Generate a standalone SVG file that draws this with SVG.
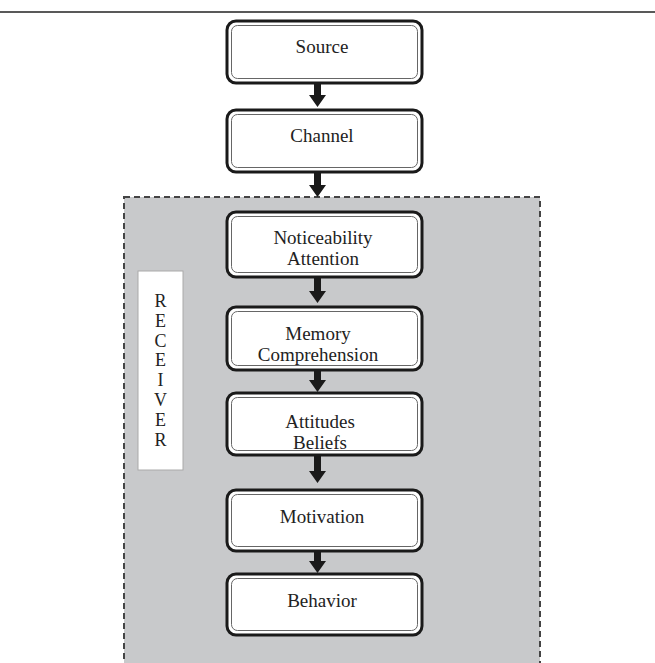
<svg xmlns="http://www.w3.org/2000/svg" width="655" height="663" viewBox="0 0 655 663">
<style>
.outer{fill:#fff;stroke:#1a1a1a;stroke-width:3}
.inner{fill:none;stroke:#666;stroke-width:1}
.t{font-family:"Liberation Serif","Times New Roman",serif;font-size:19px;fill:#222;text-anchor:middle}
.r{font-family:"Liberation Serif","Times New Roman",serif;font-size:18px;fill:#222;text-anchor:middle}
.arr{fill:#1a1a1a}
</style>
<rect width="655" height="663" fill="#fff"/>
<line x1="0" y1="12" x2="655" y2="12" stroke="#222" stroke-width="1.5"/>
<g id="receiver">
<rect x="124" y="197" width="416" height="480" fill="#c8c9cb" stroke="#444" stroke-width="2" stroke-dasharray="6,4"/>
<rect x="138" y="271" width="45" height="199" fill="#fff" stroke="#aaa" stroke-width="1"/>
<g class="r">
<text x="160.5" y="307">R</text>
<text x="160.5" y="327">E</text>
<text x="160.5" y="347">C</text>
<text x="160.5" y="366">E</text>
<text x="160.5" y="386">I</text>
<text x="160.5" y="406">V</text>
<text x="160.5" y="426">E</text>
<text x="160.5" y="446">R</text>
</g>
</g>
<g id="source">
<rect class="outer" x="227" y="21" width="195" height="62" rx="9"/>
<rect class="inner" x="231.5" y="25.5" width="186" height="53" rx="6"/>
<text class="t" x="322" y="53">Source</text>
</g>
<g id="channel">
<rect class="outer" x="227" y="110" width="195" height="62" rx="9"/>
<rect class="inner" x="231.5" y="114.5" width="186" height="53" rx="6"/>
<text class="t" x="322" y="142">Channel</text>
</g>
<g id="noticeability">
<rect class="outer" x="227" y="212" width="195" height="65" rx="9"/>
<rect class="inner" x="231.5" y="216.5" width="186" height="56" rx="6"/>
<text class="t" x="323" y="244">Noticeability</text>
<text class="t" x="323" y="265">Attention</text>
</g>
<g id="memory">
<rect class="outer" x="227" y="307" width="195" height="63" rx="9"/>
<rect class="inner" x="231.5" y="311.5" width="186" height="54" rx="6"/>
<text class="t" x="318" y="340">Memory</text>
<text class="t" x="318" y="361">Comprehension</text>
</g>
<g id="attitudes">
<rect class="outer" x="227" y="393" width="195" height="62" rx="9"/>
<rect class="inner" x="231.5" y="397.5" width="186" height="53" rx="6"/>
<text class="t" x="320" y="428">Attitudes</text>
<text class="t" x="320" y="449">Beliefs</text>
</g>
<g id="motivation">
<rect class="outer" x="227" y="490" width="195" height="61" rx="9"/>
<rect class="inner" x="231.5" y="494.5" width="186" height="52" rx="6"/>
<text class="t" x="322" y="523">Motivation</text>
</g>
<g id="behavior">
<rect class="outer" x="227" y="574" width="195" height="61" rx="9"/>
<rect class="inner" x="231.5" y="578.5" width="186" height="52" rx="6"/>
<text class="t" x="322" y="607">Behavior</text>
</g>
<g id="connectors" class="arr">
<path d="M314,84 h7 v11 h5 l-8.5,12 l-8.5,-12 h5 z"/>
<path d="M314,173 h7 v12 h5 l-8.5,12 l-8.5,-12 h5 z"/>
<path d="M314,278 h7 v13 h5 l-8.5,12 l-8.5,-12 h5 z"/>
<path d="M314,371 h7 v9 h5 l-8.5,12 l-8.5,-12 h5 z"/>
<path d="M314,456 h7 v15 h5 l-8.5,12 l-8.5,-12 h5 z"/>
<path d="M314,552 h7 v9 h5 l-8.5,12 l-8.5,-12 h5 z"/>
</g>
</svg>
